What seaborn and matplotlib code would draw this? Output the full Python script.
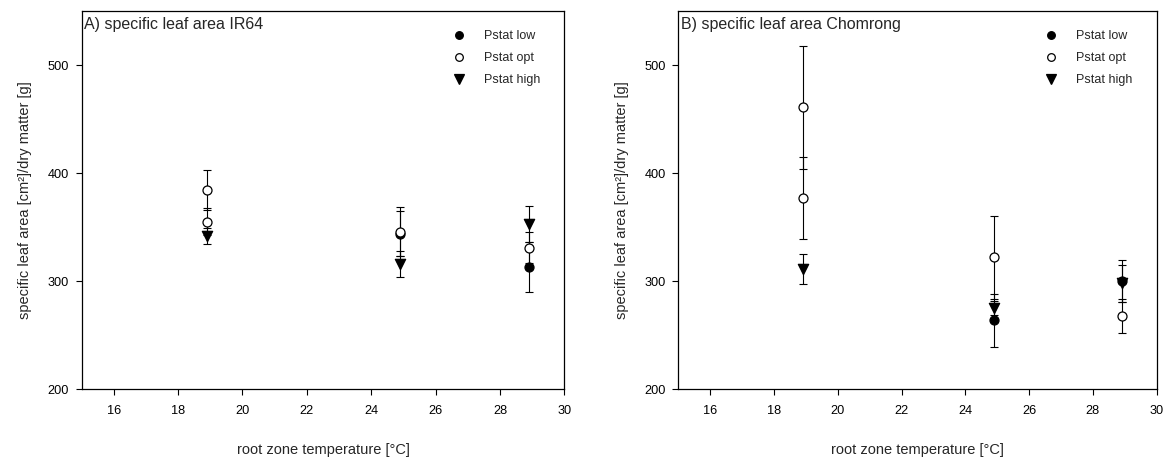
import numpy as np
import pandas as pd
import matplotlib
matplotlib.use('Agg')
import matplotlib.pyplot as plt
from matplotlib.lines import Line2D
import seaborn as sns

# --- Data ---
temps = [18.9, 24.9, 28.9]
series_names = ['Pstat low', 'Pstat opt', 'Pstat high']

# A) IR64
a_low = [355, 344, 313]
a_low_err = [12.5, 21, 23]
a_opt = [384, 346, 331]
a_opt_err = [18.5, 23, 14.5]
a_high = [342, 316, 353]
a_high_err = [7.5, 12, 17]

# B) Chomrong
b_low = [377, 264, 300]
b_low_err = [38, 24.5, 19.5]
b_opt = [461, 322, 268]
b_opt_err = [57, 38, 15.5]
b_high = [311, 275, 298]
b_high_err = [14, 6.5, 17]

titles = ['A) specific leaf area IR64', 'B) specific leaf area Chomrong']
xticks = [16, 18, 20, 22, 24, 26, 28, 30]
yticks = [200, 300, 400, 500]

# --- Style ---
sns.set_style('ticks')
plt.rcParams['font.family'] = ['Liberation Sans', 'DejaVu Sans']

markers = {'Pstat low': 'o', 'Pstat opt': 'o', 'Pstat high': 'v'}
faces = {'Pstat low': 'black', 'Pstat opt': 'white', 'Pstat high': 'black'}
sizes = {'Pstat low': 42, 'Pstat opt': 42, 'Pstat high': 55}


def build_frame(low, low_err, opt, opt_err, high, high_err):
    rows = []
    for name, vals, errs in [('Pstat low', low, low_err),
                             ('Pstat opt', opt, opt_err),
                             ('Pstat high', high, high_err)]:
        for t, v, e in zip(temps, vals, errs):
            rows.append({'temp': t, 'sla': v, 'err': e, 'series': name})
    return pd.DataFrame(rows)


frames = [build_frame(a_low, a_low_err, a_opt, a_opt_err, a_high, a_high_err),
          build_frame(b_low, b_low_err, b_opt, b_opt_err, b_high, b_high_err)]

fig = plt.figure(figsize=(11.68, 4.61), dpi=100)
ax_a = fig.add_axes([0.0698, 0.1555, 0.4134, 0.8206])
ax_b = fig.add_axes([0.5807, 0.1555, 0.4096, 0.8206])

for ax, df, title in zip([ax_a, ax_b], frames, titles):
    # error bars first
    for name in series_names:
        sub = df[df['series'] == name]
        ax.errorbar(sub['temp'], sub['sla'], yerr=sub['err'], fmt='none',
                    ecolor='black', elinewidth=0.8, capsize=3.0, capthick=0.8,
                    zorder=2)
    # symbols: low, high, then opt on top
    for i, name in enumerate(['Pstat low', 'Pstat high', 'Pstat opt']):
        sub = df[df['series'] == name]
        face = faces[name]
        if name == 'Pstat low':
            # at 18-19 degC the low treatment is drawn with an open symbol
            open_sub = sub[sub['temp'] < 20]
            sub = sub[sub['temp'] >= 20]
            sns.scatterplot(data=open_sub, x='temp', y='sla', ax=ax,
                            marker='o', color='white', edgecolor='black',
                            linewidth=0.9, s=sizes[name], zorder=3, legend=False)
        sns.scatterplot(data=sub, x='temp', y='sla', ax=ax,
                        marker=markers[name], color=face, edgecolor='black',
                        linewidth=0.9, s=sizes[name], zorder=3 + i, legend=False)

    ax.set_xlim(15, 30)
    ax.set_ylim(200, 550)
    ax.set_xticks(xticks)
    ax.set_yticks(yticks)
    ax.tick_params(axis='both', direction='out', length=4, width=0.8,
                   labelsize=9.2, colors='black')
    ax.tick_params(axis='x', pad=7)
    ax.tick_params(axis='y', pad=5)
    for sp in ax.spines.values():
        sp.set_linewidth(0.9)
        sp.set_color('black')
    ax.set_xlabel('root zone temperature [°C]', fontsize=10.5, labelpad=19)
    ax.set_ylabel('specific leaf area [cm²]/dry matter [g]', fontsize=10.5,
                  labelpad=11)
    ax.text(0.006, 0.985, title, transform=ax.transAxes, ha='left', va='top',
            fontsize=11.5)

    handles = [Line2D([0], [0], marker=markers[n], color='none',
                      markerfacecolor=faces[n], markeredgecolor='black',
                      markersize=5.5 if n != 'Pstat high' else 6.5,
                      markeredgewidth=0.9, label=n) for n in series_names]
    ax.legend(handles=handles, loc='upper right', bbox_to_anchor=(0.968, 0.972),
              frameon=False, fontsize=9, handlelength=1.0,
              handletextpad=1.5, labelspacing=0.8, borderaxespad=0.3)

fig.savefig('out.png', dpi=100)
